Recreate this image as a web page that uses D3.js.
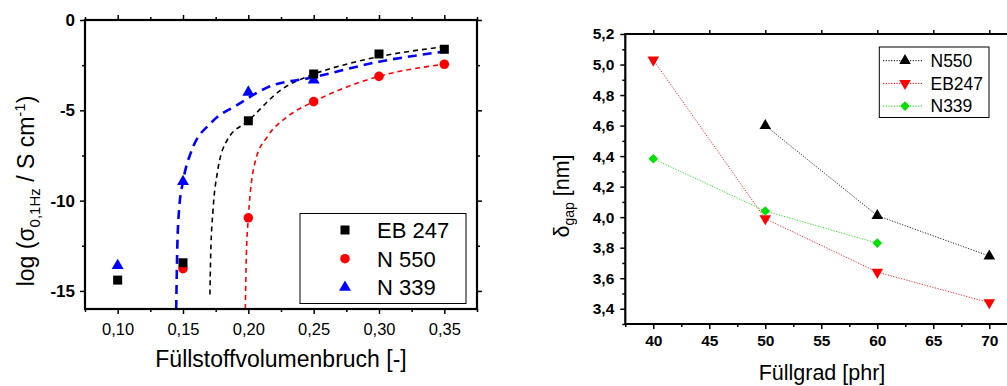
<!DOCTYPE html>
<html><head><meta charset="utf-8">
<script src="https://cdn.jsdelivr.net/npm/d3@7"></script>
<style>
body{margin:0;background:#fff;}
svg{display:block;font-family:"Liberation Sans",Arial,sans-serif;}
</style></head>
<body>
<svg id="c" width="1007" height="386"></svg>
<script>
// ---------- Left chart data ----------
const leftTicksX = [0.10, 0.15, 0.20, 0.25, 0.30, 0.35];
const leftTicksY = [0, -5, -10, -15];
const seriesNames = ["EB 247", "N 550", "N 339"];
const eb247Points = [[0.10,-14.4],[0.15,-13.44],[0.20,-5.58],[0.25,-2.99],[0.30,-1.88],[0.35,-1.62]];
const n550Points  = [[0.15,-13.77],[0.20,-10.95],[0.25,-4.52],[0.30,-3.12],[0.35,-2.45]];
const n339Points  = [[0.10,-13.6],[0.15,-8.95],[0.20,-4.0],[0.25,-3.32]];
// fitted dashed curves
const eb247Fit = [[0.1706,-15.2],[0.1712,-13.0],[0.1730,-10.5],[0.1762,-8.49],[0.1839,-6.64],[0.20,-5.58],[0.2248,-3.88],[0.25,-3.0],[0.275,-2.45],[0.30,-2.03],[0.35,-1.48]];
const n550Fit  = [[0.1977,-16],[0.1985,-13.0],[0.200,-10.95],[0.2056,-7.75],[0.2146,-6.46],[0.2299,-5.35],[0.25,-4.52],[0.275,-3.72],[0.30,-3.12],[0.35,-2.45]];
const n339Fit  = [[0.1448,-16],[0.1455,-13.0],[0.1470,-10.5],[0.150,-8.95],[0.1558,-7.38],[0.1724,-5.63],[0.1916,-4.7],[0.2147,-3.73],[0.25,-3.17],[0.30,-2.31],[0.35,-1.75]];

// ---------- Right chart data ----------
const rightTicksX = [40, 45, 50, 55, 60, 65, 70];
const rightTicksY = [3.4, 3.6, 3.8, 4.0, 4.2, 4.4, 4.6, 4.8, 5.0, 5.2];
const rightNames = ["N550", "EB247", "N339"];
const rN550  = [[50,4.60],[60,4.01],[70,3.745]];
const rEB247 = [[40,5.03],[50,3.99],[60,3.64],[70,3.44]];
const rN339  = [[40,4.383],[50,4.04],[60,3.83]];

const loc = d3.formatLocale({decimal:",", thousands:".", grouping:[3], currency:["","€"], minus:"-"});
const svg = d3.select("#c");

// ===== LEFT CHART =====
const xL = d3.scaleLinear().domain([0.075,0.375]).range([85,477]);
const yL = d3.scaleLinear().domain([-16,0]).range([309,20]);
const gL = svg.append("g");
const minorXL = [0.075,0.125,0.175,0.225,0.275,0.325,0.375];
const minorYL = [-2.5,-7.5,-12.5];

function styleAxis(g){ g.select(".domain").remove(); g.selectAll("line").attr("stroke","#000").attr("stroke-width",1.5); }

gL.append("g").attr("transform","translate(0,309)")
  .call(d3.axisBottom(xL).tickValues(leftTicksX).tickSize(5).tickPadding(9).tickFormat(loc.format(".2f")))
  .call(styleAxis)
  .selectAll("text").attr("font-size",16.5).attr("fill","#000").attr("font-family","Liberation Sans, Arial");
gL.append("g").attr("transform","translate(0,309)")
  .call(d3.axisBottom(xL).tickValues(minorXL).tickSize(3).tickFormat("")).call(styleAxis);
gL.append("g").attr("transform","translate(0,20)")
  .call(d3.axisTop(xL).tickValues(leftTicksX).tickSize(5).tickFormat("")).call(styleAxis);
gL.append("g").attr("transform","translate(0,20)")
  .call(d3.axisTop(xL).tickValues(minorXL).tickSize(3).tickFormat("")).call(styleAxis);
gL.append("g").attr("transform","translate(85,0)")
  .call(d3.axisLeft(yL).tickValues(leftTicksY).tickSize(5).tickPadding(5).tickFormat(loc.format("d")))
  .call(styleAxis)
  .selectAll("text").attr("font-size",17).attr("font-weight","bold").attr("fill","#000").attr("font-family","Liberation Sans, Arial");
gL.append("g").attr("transform","translate(85,0)")
  .call(d3.axisLeft(yL).tickValues(minorYL).tickSize(3).tickFormat("")).call(styleAxis);
gL.append("g").attr("transform","translate(477,0)")
  .call(d3.axisRight(yL).tickValues(leftTicksY).tickSize(5).tickFormat("")).call(styleAxis);
gL.append("g").attr("transform","translate(477,0)")
  .call(d3.axisRight(yL).tickValues(minorYL).tickSize(3).tickFormat("")).call(styleAxis);

const lineL = d3.line().x(d=>xL(d[0])).y(d=>yL(d[1])).curve(d3.curveMonotoneX);
gL.append("path").attr("d",lineL(eb247Fit)).attr("fill","none").attr("stroke","#000").attr("stroke-width",1.6).attr("stroke-dasharray","5,4");
gL.append("path").attr("d",lineL(n550Fit)).attr("fill","none").attr("stroke","#ff0000").attr("stroke-width",1.6).attr("stroke-dasharray","5,4");
gL.append("path").attr("d",lineL(n339Fit)).attr("fill","none").attr("stroke","#0000ff").attr("stroke-width",2.6).attr("stroke-dasharray","9,6");

const sqSym = d3.symbol().type(d3.symbolSquare).size(81);
const ciSym = d3.symbol().type(d3.symbolCircle).size(72);
const trSym = d3.symbol().type(d3.symbolTriangle).size(62);

gL.selectAll(".tri").data(n339Points).join("path").attr("d",trSym)
  .attr("transform",d=>`translate(${xL(d[0])},${yL(d[1])})`).attr("fill","#0000ff");
gL.selectAll(".ci").data(n550Points).join("path").attr("d",ciSym)
  .attr("transform",d=>`translate(${xL(d[0])},${yL(d[1])})`).attr("fill","#ff0000");
gL.selectAll(".sq").data(eb247Points).join("path").attr("d",sqSym)
  .attr("transform",d=>`translate(${xL(d[0])},${yL(d[1])})`).attr("fill","#000");

gL.append("rect").attr("x",85).attr("y",20).attr("width",392).attr("height",289)
  .attr("fill","none").attr("stroke","#000").attr("stroke-width",2.2);

const legL = gL.append("g");
legL.append("rect").attr("x",300).attr("y",213.5).attr("width",166).attr("height",90)
  .attr("fill","#fff").attr("stroke","#000").attr("stroke-width",1);
const legSyms = [[sqSym,"#000"],[ciSym,"#ff0000"],[trSym,"#0000ff"]];
seriesNames.forEach((n,i)=>{
  const y = 230 + i*28.7;
  legL.append("path").attr("d",legSyms[i][0]).attr("transform",`translate(345,${y})`).attr("fill",legSyms[i][1]);
  legL.append("text").attr("x",377).attr("y",y+8).attr("font-size",22).attr("fill","#000").text(n);
});

gL.append("text").attr("x",281).attr("y",367).attr("text-anchor","middle").attr("font-size",23).attr("fill","#000")
  .text("Füllstoffvolumenbruch [-]");
const yt = gL.append("text").attr("transform","translate(34,191) rotate(-90)").attr("text-anchor","middle")
  .attr("font-size",23).attr("fill","#000");
yt.append("tspan").text("log (σ");
yt.append("tspan").attr("font-size",15).attr("dy",6).text("0,1Hz");
yt.append("tspan").attr("dy",-6).text(" / S cm");
yt.append("tspan").attr("font-size",15).attr("dy",-9).text("-1");
yt.append("tspan").attr("dy",9).text(")");

// ===== RIGHT CHART =====
const xR = d3.scaleLinear().domain([37.5,72.5]).range([625.3,1017.3]);
const yR = d3.scaleLinear().domain([3.3,5.2]).range([324,34]);
const gR = svg.append("g");
const minorXR = [37.5,42.5,47.5,52.5,57.5,62.5,67.5,72.5];
const minorYR = [3.3,3.5,3.7,3.9,4.1,4.3,4.5,4.7,4.9,5.1];

gR.append("g").attr("transform","translate(0,324)")
  .call(d3.axisBottom(xR).tickValues(rightTicksX).tickSize(5).tickPadding(6).tickFormat(loc.format("d")))
  .call(styleAxis)
  .selectAll("text").attr("font-size",15.5).attr("font-weight","bold").attr("fill","#000").attr("font-family","Liberation Sans, Arial");
gR.append("g").attr("transform","translate(0,324)")
  .call(d3.axisBottom(xR).tickValues(minorXR).tickSize(3).tickFormat("")).call(styleAxis);
gR.append("g").attr("transform","translate(0,34)")
  .call(d3.axisTop(xR).tickValues(rightTicksX).tickSize(4).tickFormat("")).call(styleAxis);
gR.append("g").attr("transform","translate(625.3,0)")
  .call(d3.axisLeft(yR).tickValues(rightTicksY).tickSize(5).tickPadding(6).tickFormat(loc.format(".1f")))
  .call(styleAxis)
  .selectAll("text").attr("font-size",15.5).attr("font-weight","bold").attr("fill","#000").attr("font-family","Liberation Sans, Arial");
gR.append("g").attr("transform","translate(625.3,0)")
  .call(d3.axisLeft(yR).tickValues(minorYR).tickSize(3).tickFormat("")).call(styleAxis);

gR.append("line").attr("x1",625.3).attr("x2",1007).attr("y1",34).attr("y2",34).attr("stroke","#000").attr("stroke-width",2.2);
gR.append("line").attr("x1",625.3).attr("x2",1007).attr("y1",324).attr("y2",324).attr("stroke","#000").attr("stroke-width",2.2);
gR.append("line").attr("x1",625.3).attr("x2",625.3).attr("y1",33).attr("y2",325).attr("stroke","#000").attr("stroke-width",2.2);

const lineR = d3.line().x(d=>xR(d[0])).y(d=>yR(d[1]));
const upTri = d3.symbol().type(d3.symbolTriangle).size(58);
const diam = d3.symbol().type(d3.symbolSquare).size(46);
const rSeries = [
  {data:rN550, color:"#000000", sym:upTri, rot:0},
  {data:rEB247, color:"#ff0000", sym:upTri, rot:180},
  {data:rN339, color:"#00e000", sym:diam, rot:45}
];
rSeries.forEach(s=>{
  gR.append("path").attr("d",lineR(s.data)).attr("fill","none").attr("stroke",s.color).attr("stroke-width",1).attr("stroke-dasharray","1.2,1.5").attr("opacity",0.85);
});
rSeries.forEach(s=>{
  gR.selectAll(null).data(s.data).join("path").attr("d",s.sym)
    .attr("transform",d=>`translate(${xR(d[0])},${yR(d[1])}) rotate(${s.rot})`).attr("fill",s.color);
});

const legR = gR.append("g");
legR.append("rect").attr("x",879.3).attr("y",47).attr("width",109.7).attr("height",70.5)
  .attr("fill","#fff").attr("stroke","#000").attr("stroke-width",1);
rightNames.forEach((n,i)=>{
  const y = 60.7 + i*22.7;
  const s = rSeries[i];
  legR.append("line").attr("x1",883).attr("x2",923).attr("y1",y).attr("y2",y).attr("stroke",s.color).attr("stroke-width",1).attr("stroke-dasharray","1.2,1.5");
  legR.append("path").attr("d",s.sym).attr("transform",`translate(905,${y}) rotate(${s.rot})`).attr("fill",s.color);
  legR.append("text").attr("x",930.5).attr("y",y+6.3).attr("font-size",17.5).attr("fill","#000").text(n);
});

gR.append("text").attr("x",822).attr("y",380).attr("text-anchor","middle").attr("font-size",21.5).attr("fill","#000").text("Füllgrad [phr]");
const yr = gR.append("text").attr("transform","translate(569,196) rotate(-90)").attr("text-anchor","middle")
  .attr("font-size",21.5).attr("fill","#000");
yr.append("tspan").text("δ");
yr.append("tspan").attr("font-size",14).attr("dy",5).text("gap");
yr.append("tspan").attr("dy",-5).text(" [nm]");
</script>
</body></html>
